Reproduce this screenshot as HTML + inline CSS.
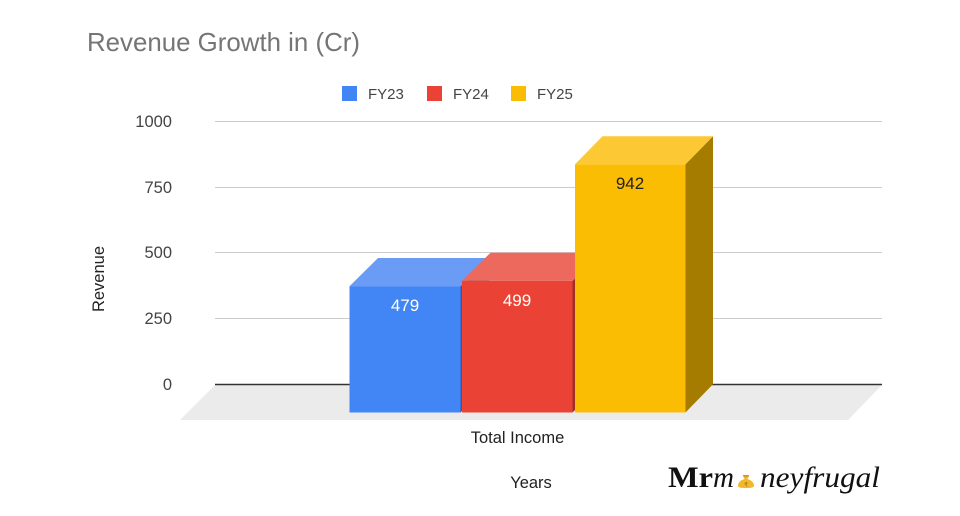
<!DOCTYPE html>
<html>
<head>
<meta charset="utf-8">
<style>
  html,body{margin:0;padding:0;background:#fff;}
  svg{display:block;}
</style>
</head>
<body>
<svg width="960" height="516" viewBox="0 0 960 516" xmlns="http://www.w3.org/2000/svg" font-family="'Liberation Sans', Arial, sans-serif">
  <rect width="960" height="516" fill="#ffffff"/>

  <!-- Title -->
  <text x="87" y="51" font-size="26" fill="#757575" textLength="273" lengthAdjust="spacingAndGlyphs">Revenue Growth in (Cr)</text>

  <!-- Legend -->
  <rect x="342" y="86" width="15" height="15" fill="#4285f4"/>
  <text x="368" y="99" font-size="15" fill="#444">FY23</text>
  <rect x="427" y="86" width="15" height="15" fill="#ea4335"/>
  <text x="453" y="99" font-size="15" fill="#444">FY24</text>
  <rect x="511" y="86" width="15" height="15" fill="#fbbc04"/>
  <text x="537" y="99" font-size="15" fill="#444">FY25</text>

  <!-- Floor -->
  <polygon points="215,385 882,385 848,420 180,420" fill="#ebebeb"/>

  <!-- Gridlines -->
  <g stroke="#cccccc" stroke-width="1">
    <line x1="215" y1="121.5" x2="882" y2="121.5"/>
    <line x1="215" y1="187.5" x2="882" y2="187.5"/>
    <line x1="215" y1="252.5" x2="882" y2="252.5"/>
    <line x1="215" y1="318.5" x2="882" y2="318.5"/>
  </g>
  <line x1="215" y1="384.5" x2="882" y2="384.5" stroke="#333333" stroke-width="1.5"/>

  <!-- Y tick labels -->
  <g font-size="16.5" fill="#444" text-anchor="end">
    <text x="172" y="127">1000</text>
    <text x="172" y="193">750</text>
    <text x="172" y="258">500</text>
    <text x="172" y="324">250</text>
    <text x="172" y="390">0</text>
  </g>

  <!-- Y axis title -->
  <text transform="translate(104,279) rotate(-90)" font-size="16.5" fill="#222" text-anchor="middle">Revenue</text>

  <!-- Blue bar FY23 (479) -->
  <polygon points="460.5,286.2 489,258 489,384.3 460.5,412.5" fill="#2a5db0"/>
  <polygon points="349.5,286.2 460.5,286.2 489,258 378,258" fill="#6a9cf6"/>
  <rect x="349.5" y="286.2" width="111" height="126.3" fill="#4285f4"/>

  <!-- Red bar FY24 (499) -->
  <polygon points="572.5,280.9 601,252.7 601,384.3 572.5,412.5" fill="#a32e24"/>
  <polygon points="462,280.9 572.5,280.9 601,252.7 490.5,252.7" fill="#ed685d"/>
  <rect x="462" y="280.9" width="110.5" height="131.6" fill="#ea4335"/>

  <!-- Yellow bar FY25 (942) -->
  <polygon points="685.5,164.3 713,136.3 713,384.3 685.5,412.5" fill="#a67c00"/>
  <polygon points="575,164.3 685.5,164.3 713,136.3 602.5,136.3" fill="#fcc934"/>
  <rect x="575" y="164.3" width="110.5" height="248.2" fill="#fbbc04"/>

  <!-- Data labels -->
  <g font-size="17" text-anchor="middle">
    <text x="405" y="311" fill="#ffffff">479</text>
    <text x="517" y="306" fill="#ffffff">499</text>
    <text x="630" y="189" fill="#222222">942</text>
  </g>

  <!-- X labels -->
  <text x="517.5" y="443" font-size="16.5" fill="#222" text-anchor="middle">Total Income</text>
  <text x="531" y="488" font-size="16.5" fill="#222" text-anchor="middle">Years</text>

  <!-- Logo -->
  <g font-family="'Liberation Serif', 'DejaVu Serif', serif" fill="#111">
    <text x="668" y="487" font-size="30" font-weight="bold" textLength="45" lengthAdjust="spacingAndGlyphs">Mr</text>
    <text x="713" y="487" font-size="30" font-style="italic" textLength="21" lengthAdjust="spacingAndGlyphs">m</text>
    <text x="760" y="487" font-size="30" font-style="italic" textLength="120" lengthAdjust="spacingAndGlyphs">neyfrugal</text>
  </g>
  <!-- money bag icon -->
  <g>
    <path d="M743,476 L749,476 L747.5,479 C752,480.5 754,483 754,485.5 C754,487.5 752,488 746,488 C740,488 738,487.5 738,485.5 C738,483 740,480.5 744.5,479 Z" fill="#f2b82c"/>
    <path d="M742.5,475 L749.5,475 L748,477 L744,477 Z" fill="#d99a14"/>
    <text x="746" y="486.5" font-size="6" fill="#a06a00" text-anchor="middle" font-family="'DejaVu Sans', sans-serif">₹</text>
  </g>
</svg>
</body>
</html>
